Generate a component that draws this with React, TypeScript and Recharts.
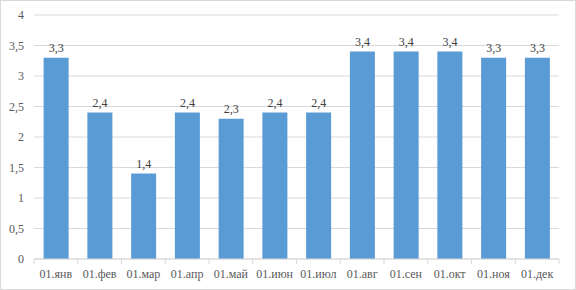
import { BarChart, Bar, XAxis, YAxis, CartesianGrid, LabelList } from 'recharts'

// months (Russian abbreviations, as in the source sheet)
const months = ['01.янв', '01.фев', '01.мар', '01.апр', '01.май', '01.июн', '01.июл', '01.авг', '01.сен', '01.окт', '01.ноя', '01.дек']
const values = [3.3, 2.4, 1.4, 2.4, 2.3, 2.4, 2.4, 3.4, 3.4, 3.4, 3.3, 3.3]
const yTicks = [0, 0.5, 1, 1.5, 2, 2.5, 3, 3.5, 4]

const data = months.map((m, i) => ({ month: m, value: values[i] }))

const W = 574
const H = 288
const margin = { top: 14, right: 16, bottom: 0, left: 0 }
const yAxisWidth = 33
const band = (W - margin.left - margin.right - yAxisWidth) / months.length

const font = "'Times New Roman', 'Liberation Serif', 'DejaVu Serif', serif"
const comma = (v: number) => String(v).replace('.', ',')

function MonthTick(props: any) {
  const { x, y, payload, index } = props
  return (
    <g>
      <line x1={x - band / 2} x2={x - band / 2} y1={y} y2={y + 5} stroke="#d9d9d9" />
      {index === months.length - 1 && (
        <line x1={x + band / 2} x2={x + band / 2} y1={y} y2={y + 5} stroke="#d9d9d9" />
      )}
      <text x={x} y={y + 19} textAnchor="middle" fill="#595959" fontSize={12} fontFamily={font}>
        {payload.value}
      </text>
    </g>
  )
}

export default function App() {
  return (
    <div
      style={{
        position: 'absolute', left: 0, top: 0, width: 576, height: 290,
        boxSizing: 'border-box', border: '1px solid #d9d9d9', background: '#fff',
        fontFamily: font,
      }}
    >
      <BarChart width={W} height={H} data={data} margin={margin} barCategoryGap="22%">
        <CartesianGrid vertical={false} stroke="#d9d9d9" />
        <XAxis
          dataKey="month"
          height={30}
          axisLine={{ stroke: '#d9d9d9' }}
          tickLine={false}
          tickSize={0}
          tickMargin={0}
          interval={0}
          tick={<MonthTick />}
        />
        <YAxis
          width={yAxisWidth}
          domain={[0, 4]}
          ticks={yTicks}
          axisLine={false}
          tickLine={false}
          tickSize={0}
          tickMargin={10}
          tickFormatter={comma}
          tick={{ fill: '#595959', fontSize: 12, fontFamily: font }}
        />
        <Bar dataKey="value" fill="#5b9bd5" isAnimationActive={false}>
          <LabelList
            dataKey="value"
            position="top"
            offset={6}
            formatter={(v: any) => comma(v)}
            fill="#404040"
            fontSize={12}
            fontFamily={font}
          />
        </Bar>
      </BarChart>
    </div>
  )
}
